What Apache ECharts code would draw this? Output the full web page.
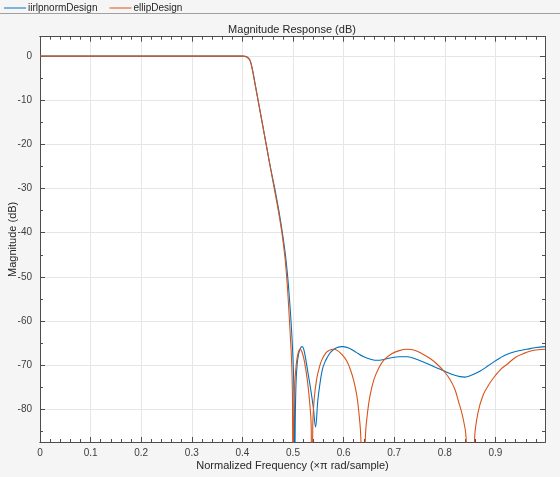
<!DOCTYPE html>
<html><head><meta charset="utf-8">
<script src="https://cdn.jsdelivr.net/npm/echarts@6/dist/echarts.min.js"></script>
<style>html,body{margin:0;padding:0;background:#f5f5f5}#c{width:560px;height:477px}</style>
</head><body><div id="c"></div>
<script>
// ---- data ----
var seriesNames = ['iirlpnormDesign', 'ellipDesign'];
var xTicks = [0, 0.1, 0.2, 0.3, 0.4, 0.5, 0.6, 0.7, 0.8, 0.9];
var xMinorTicks = [0.02, 0.04, 0.06, 0.08, 0.12, 0.14, 0.16, 0.18, 0.22, 0.24, 0.26, 0.28, 0.32, 0.34, 0.36, 0.38, 0.42, 0.44, 0.46, 0.48, 0.52, 0.54, 0.56, 0.58, 0.62, 0.64, 0.66, 0.68, 0.72, 0.74, 0.76, 0.78, 0.82, 0.84, 0.86, 0.88, 0.92, 0.94, 0.96, 0.98];
var yTicks = [-80, -70, -60, -50, -40, -30, -20, -10, 0];
var yMinorTicks = [-85, -75, -65, -55, -45, -35, -25, -15, -5];

var iirFreq = [0, 0.4, 0.405, 0.41, 0.415, 0.42, 0.425, 0.431, 0.439, 0.447, 0.455, 0.464, 0.472, 0.479, 0.485, 0.4895, 0.493, 0.496, 0.499, 0.501, 0.5025, 0.5035, 0.5045, 0.506, 0.508, 0.511, 0.5145, 0.518, 0.521, 0.525, 0.53, 0.535, 0.54, 0.5445, 0.549, 0.553, 0.558, 0.563, 0.567, 0.575, 0.585, 0.599, 0.612, 0.625, 0.64, 0.655, 0.667, 0.68, 0.695, 0.71, 0.725, 0.74, 0.76, 0.78, 0.8, 0.815, 0.83, 0.84, 0.85, 0.87, 0.885, 0.896, 0.91, 0.922, 0.94, 0.962, 0.98, 0.998];
var iirMag = [0, 0, -0.05, -0.25, -0.9, -3.1, -6.2, -10, -15, -20, -25, -30, -35, -40, -45, -50, -55, -60, -66, -72, -80, -95, -82, -74, -70, -67.5, -66.2, -65.8, -66.3, -68.5, -72, -75.5, -79.5, -84, -78, -74.4, -71, -69.3, -68.4, -67, -66.1, -65.8, -66.2, -67.1, -68.1, -68.7, -68.9, -68.7, -68.3, -68.1, -68.1, -68.5, -69.4, -70.4, -71.4, -72.1, -72.6, -72.7, -72.4, -71.3, -70.2, -69.3, -68.3, -67.6, -66.9, -66.4, -66.0, -65.8];

var ellipFreq = [0, 0.4, 0.405, 0.41, 0.415, 0.42, 0.425, 0.431, 0.439, 0.447, 0.455, 0.463, 0.471, 0.478, 0.4835, 0.4875, 0.4905, 0.493, 0.4955, 0.4975, 0.499, 0.5, 0.5005, 0.5015, 0.503, 0.506, 0.509, 0.512, 0.5145, 0.517, 0.521, 0.525, 0.529, 0.533, 0.536, 0.5375, 0.539, 0.542, 0.547, 0.552, 0.557, 0.565, 0.572, 0.58, 0.588, 0.597, 0.606, 0.614, 0.62, 0.626, 0.63, 0.634, 0.6385, 0.643, 0.647, 0.652, 0.66, 0.67, 0.68, 0.695, 0.71, 0.725, 0.74, 0.755, 0.771, 0.786, 0.8, 0.81, 0.82, 0.827, 0.835, 0.842, 0.851, 0.859, 0.866, 0.876, 0.886, 0.896, 0.91, 0.922, 0.94, 0.955, 0.97, 0.985, 0.998];
var ellipMag = [0, 0, -0.05, -0.3, -1.0, -3.3, -6.4, -10, -15, -20, -25, -30, -35, -40, -45, -50, -55, -60, -65, -70, -78, -120, -90, -82, -75, -70.3, -67.8, -66.6, -66.4, -66.8, -68.3, -70.8, -74, -78.5, -84, -120, -84, -77.5, -73, -70.5, -68.8, -67.2, -66.6, -66.4, -66.7, -67.6, -69, -71.2, -73.5, -76.8, -80.5, -86.5, -120, -86.5, -81, -77, -73.2, -70.5, -68.8, -67.4, -66.7, -66.4, -66.6, -67.4, -68.5, -69.9, -71.6, -73.2, -75.5, -78.2, -81.5, -86.3, -120, -86.3, -80.5, -76.7, -74.6, -72.9, -71, -69.9, -68.2, -67.4, -66.8, -66.5, -66.4];

var xMin = 0, xMax = 0.998, yMin = -87.4, yMax = 4.4;

function pairs(xs, ys) { return xs.map(function (x, i) { return [x, ys[i]]; }); }

var FONT = 'Liberation Sans, Arial, sans-serif';
var axisColor = '#4d4d4d';
var gridColor = '#e6e6e6';
var labelColor = '#404040';

function xAxisDef(pos, ticks, len, withLabels) {
  return {
    type: 'value', min: xMin, max: xMax, position: pos,
    name: withLabels ? 'Normalized Frequency (\u00d7\u03c0 rad/sample)' : '',
    nameLocation: 'middle', nameGap: 18, nameMoveOverlap: false,
    nameTextStyle: {fontSize: 11, color: '#262626', fontFamily: FONT},
    axisLine: {show: true, onZero: false, lineStyle: {color: axisColor}},
    axisTick: {show: true, inside: true, length: len, customValues: ticks, lineStyle: {color: axisColor}},
    axisLabel: withLabels ? {show: true, customValues: xTicks, fontSize: 10, color: labelColor, margin: 6, fontFamily: FONT,
      formatter: function (v) { return String(+v.toFixed(1)); }} : {show: false},
    splitLine: {show: withLabels, lineStyle: {color: gridColor}}
  };
}
function yAxisDef(pos, ticks, len, withLabels) {
  return {
    type: 'value', min: yMin, max: yMax, position: pos,
    name: withLabels ? 'Magnitude (dB)' : '', nameLocation: 'middle', nameGap: 22, nameMoveOverlap: false,
    nameTextStyle: {fontSize: 11, color: '#262626', fontFamily: FONT},
    axisLine: {show: true, onZero: false, lineStyle: {color: axisColor}},
    axisTick: {show: true, inside: true, length: len, customValues: ticks, lineStyle: {color: axisColor}},
    axisLabel: withLabels ? {show: true, customValues: yTicks, fontSize: 10, color: labelColor, margin: 8, fontFamily: FONT,
      formatter: function (v) { return String(Math.round(v)); }} : {show: false},
    splitLine: {show: withLabels, lineStyle: {color: gridColor}}
  };
}

var chart = echarts.init(document.getElementById('c'), null, {renderer: 'canvas'});
chart.setOption({
  backgroundColor: '#f5f5f5',
  animation: false,
  textStyle: {fontFamily: FONT},
  title: {
    text: 'Magnitude Response (dB)', left: 292, top: 24, textAlign: 'center', padding: 0,
    textStyle: {fontSize: 11, fontWeight: 'normal', color: '#262626', fontFamily: FONT}
  },
  legend: {
    left: 4, top: 3, padding: 0, itemWidth: 22, itemHeight: 1, itemGap: 12, icon: 'rect',
    textStyle: {fontSize: 10, color: '#262626', fontFamily: FONT, padding: [0, 0, 0, -3]},
    data: seriesNames
  },
  graphic: [{
    type: 'line', shape: {x1: 0, y1: 13.5, x2: 560, y2: 13.5},
    style: {stroke: '#a0a0a0', lineWidth: 1}, silent: true
  }],
  grid: {left: 40, right: 15, top: 36.7, bottom: 35, show: true, backgroundColor: '#ffffff', borderWidth: 0, outerBoundsMode: 'none', containLabel: false},
  xAxis: [
    xAxisDef('bottom', xTicks, 5, true),
    xAxisDef('bottom', xMinorTicks, 3, false),
    xAxisDef('top', xTicks, 5, false),
    xAxisDef('top', xMinorTicks, 3, false)
  ],
  yAxis: [
    yAxisDef('left', yTicks, 5, true),
    yAxisDef('left', yMinorTicks, 3, false),
    yAxisDef('right', yTicks, 5, false),
    yAxisDef('right', yMinorTicks, 3, false)
  ],
  series: [{
    name: seriesNames[0], type: 'line', data: pairs(iirFreq, iirMag),
    showSymbol: false, symbol: 'none', smooth: 0.4, clip: true,
    lineStyle: {color: '#0072BD', width: 1.1}, itemStyle: {color: '#0072BD'}, z: 3
  }, {
    name: seriesNames[1], type: 'line', data: pairs(ellipFreq, ellipMag),
    showSymbol: false, symbol: 'none', smooth: 0.4, clip: true,
    lineStyle: {color: '#D95319', width: 1.1}, itemStyle: {color: '#D95319'}, z: 4
  }]
});
</script></body></html>
